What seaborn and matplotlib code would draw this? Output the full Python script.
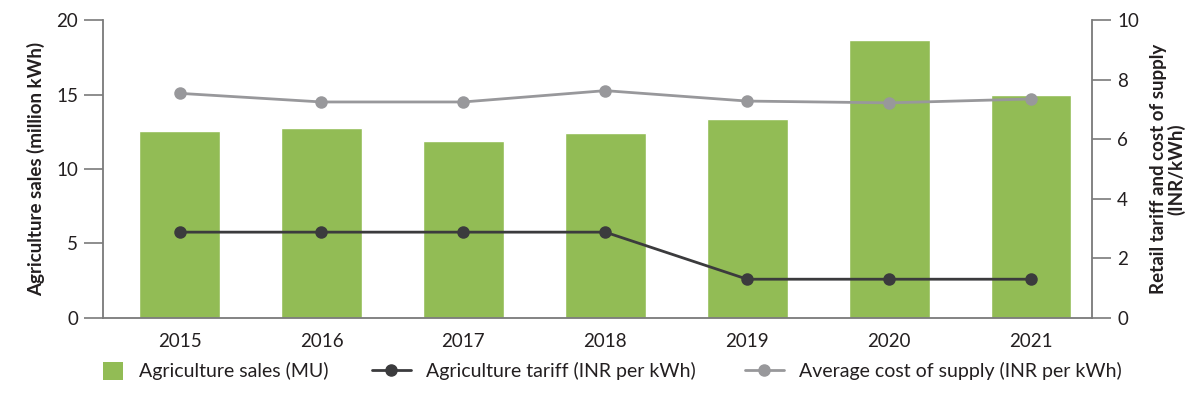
import matplotlib
matplotlib.use("Agg")
import matplotlib.pyplot as plt
import seaborn as sns
import pandas as pd
from matplotlib.lines import Line2D
from matplotlib.patches import Patch

years = ["2015", "2016", "2017", "2018", "2019", "2020", "2021"]
sales_mu = [12.55, 12.75, 11.88, 12.4, 13.36, 18.66, 14.97]
tariff = [2.88, 2.88, 2.88, 2.88, 1.3, 1.3, 1.3]
cost_supply = [7.54, 7.25, 7.25, 7.63, 7.28, 7.22, 7.35]

GREEN = "#92bc55"
DARK = "#3b3b3d"
GREY = "#98989b"
SPINE = "#7a7a7a"
TXT = "#231f20"

sns.set_theme(style="white")
plt.rcParams["font.family"] = ["Lato", "DejaVu Sans"]

df = pd.DataFrame({"year": years, "sales": sales_mu,
                   "tariff": tariff, "cost": cost_supply})

fig = plt.figure(figsize=(12, 3.93), dpi=100)
ax = fig.add_axes([0.0858, 0.191, 0.8242, 0.758])

sns.barplot(data=df, x="year", y="sales", color=GREEN, width=0.57,
            saturation=1, ax=ax)
xlim = (-0.54, len(years) - 0.57)
ax.set_xlim(*xlim)
ax.set_ylim(0, 20)
ax.set_yticks([0, 5, 10, 15, 20])
ax.set_xlabel("")
ax.set_ylabel("Agriculture sales (million kWh)", fontsize=13.5,
              fontweight="bold", color=TXT, labelpad=8)

ax2 = ax.twinx()
sns.pointplot(data=df, x="year", y="cost", color=GREY, markers="o",
              markersize=7.5, linewidth=2, ax=ax2)
sns.pointplot(data=df, x="year", y="tariff", color=DARK, markers="o",
              markersize=7.5, linewidth=2, ax=ax2)
ax2.set_ylim(0, 10)
ax2.set_yticks([0, 2, 4, 6, 8, 10])
ax2.set_xlim(*xlim)
ax2.set_ylabel("Retail tariff and cost of supply\n(INR/kWh)", fontsize=13.5,
               fontweight="bold", color=TXT, labelpad=8, linespacing=1.05)

for a in (ax, ax2):
    for s in a.spines.values():
        s.set_visible(False)
    a.tick_params(axis="y", length=14, width=1.2, color=SPINE,
                  labelsize=13.5, labelcolor=TXT, pad=4)

ax.spines["left"].set_visible(True)
ax.spines["bottom"].set_visible(True)
ax2.spines["right"].set_visible(True)
for s in (ax.spines["left"], ax.spines["bottom"], ax2.spines["right"]):
    s.set_color(SPINE)
    s.set_linewidth(1.3)

ax.set_xticks(range(len(years)))
ax.set_xticklabels(years)
ax.tick_params(axis="x", which="major", length=0, labelsize=13.5,
               labelcolor=TXT, pad=11)
ax.set_xticks([i + 0.5 for i in range(len(years) - 1)], minor=True)
ax.tick_params(axis="x", which="minor", direction="in", length=16,
               width=1.2, color=SPINE)
ax2.tick_params(axis="x", length=0)

# three separate legend entries so the square and the line handles can differ
leg_kw = dict(loc="center left", frameon=False, fontsize=14,
              handletextpad=0.8, labelcolor=TXT, borderpad=0,
              borderaxespad=0)
leg_y = 1 - 371 / 393
fig.legend(handles=[Patch(facecolor=GREEN, edgecolor="none",
                          label="Agriculture sales (MU)")],
           bbox_to_anchor=(103 / 1200, leg_y), handlelength=1.05,
           handleheight=1.05, **leg_kw)
fig.legend(handles=[Line2D([], [], color=DARK, marker="o", markersize=8,
                           linewidth=2, label="Agriculture tariff (INR per kWh)")],
           bbox_to_anchor=(372 / 1200, leg_y), handlelength=2.0, **leg_kw)
fig.legend(handles=[Line2D([], [], color=GREY, marker="o", markersize=8,
                           linewidth=2, label="Average cost of supply (INR per kWh)")],
           bbox_to_anchor=(745 / 1200, leg_y), handlelength=2.0, **leg_kw)

fig.savefig("out.png", dpi=100)
